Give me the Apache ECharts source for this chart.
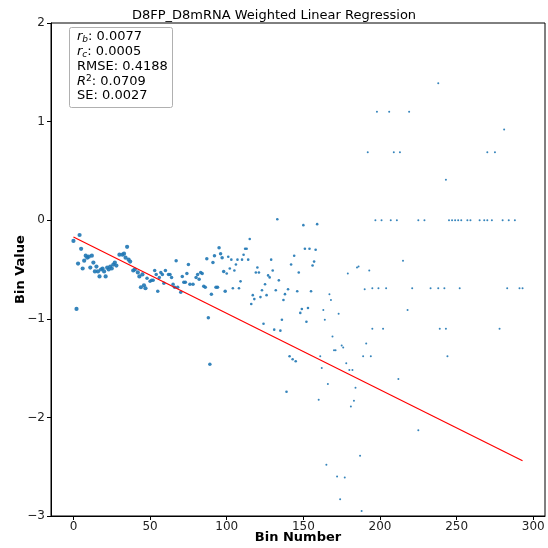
<!DOCTYPE html>
<html>
<head>
<meta charset="utf-8">
<script src="https://cdn.jsdelivr.net/npm/echarts@6/dist/echarts.min.js"></script>
<style>html,body{margin:0;padding:0;background:#fff}#c{width:548px;height:548px}</style>
</head>
<body>
<div id="c"></div>
<script>
// Scatter points (bin number, bin value)
const binX = [0,2,3,4,5,6,7,8,9,10,11,12,13,14,15,16,17,18,19,20,21,22,23,24,25,26,27,28,30,32,33,34,35,36,37,39,40,42,43,44,45,46,
  47,48,50,51,52,53,54,55,56,57,58,59,60,62,63,64,65,66,67,68,70,71,72,73,74,75,76,78,80,81,82,83,84,85,86,87,88,89,90,91,92,93,94,95,96,97,98,99,100,101,
  102,103,104,105,106,107,108,109,110,111,112,113,114,115,116,117,118,119,120,121,122,123,124,125,126,127,128,129,130,131,132,133,134,135,136,137,138,139,140,
  141,142,143,144,145,146,147,148,149,150,151,152,153,154,155,156,157,158,159,160,161,162,163,164,165,166,167,168,169,170,171,172,173,174,175,176,177,178,179,180,
  181,182,183,184,185,186,187,188,189,190,191,192,193,194,195,195,197,198,199,201,202,204,206,207,209,211,212,213,215,218,219,221,225,225,229,233,238,238,239,242,
  243,243,244,245,247,249,251,252,253,257,259,265,268,270,270,273,275,278,280,281,283,284,288,291,293];
const binY = [-0.21,-0.90,-0.44,-0.15,-0.29,-0.49,-0.41,-0.36,-0.38,-0.37,-0.48,-0.36,-0.43,-0.52,-0.47,-0.52,-0.57,-0.50,-0.49,-0.52,-0.57,-0.48,-0.50,-0.47,-0.49,-0.45,-0.43,-0.46,-0.35,-0.35,-0.34,-0.38,-0.27,-0.40,-0.42,-0.51,-0.50,-0.53,-0.57,-0.68,-0.55,-0.66,
  -0.69,-0.59,-0.62,-0.61,-0.61,-0.51,-0.55,-0.72,-0.58,-0.53,-0.55,-0.64,-0.51,-0.55,-0.55,-0.58,-0.65,-0.68,-0.41,-0.68,-0.73,-0.57,-0.63,-0.63,-0.54,-0.45,-0.65,-0.65,-0.58,-0.55,-0.60,-0.53,-0.54,-0.67,-0.68,-0.39,-0.99,-1.46,-0.75,-0.43,-0.36,-0.68,-0.68,-0.28,-0.34,-0.38,-0.52,-0.72,-0.54,-0.37,
  -0.49,-0.40,-0.69,-0.51,-0.45,-0.40,-0.69,-0.62,-0.40,-0.35,-0.29,-0.29,-0.40,-0.19,-0.85,-0.76,-0.80,-0.53,-0.48,-0.53,-0.78,-0.71,-1.05,-0.65,-0.76,-0.56,-0.58,-0.40,-0.51,-1.11,-0.71,0.01,-0.61,-1.12,-1.01,-0.81,-0.75,-1.74,-0.70,
  -1.38,-0.45,-1.41,-0.36,-1.43,-0.72,-0.53,-0.94,-0.90,-0.05,-0.29,-1.03,-0.89,-0.29,-0.72,-0.46,-0.42,-0.30,-0.04,-1.82,-1.38,-1.50,-0.91,-1.01,-2.48,-1.66,-0.75,-0.81,-1.18,-1.32,-1.32,-2.60,-0.95,-2.83,-1.27,-1.29,-2.61,-1.45,-0.54,-1.52,
  -1.89,-1.52,-1.83,-1.70,-0.48,-0.47,-2.39,-2.95,-1.38,-0.70,-1.25,0.69,-0.51,-1.38,-1.10,-0.69,0.00,1.10,-0.69,0.00,-1.10,-0.69,1.10,0.00,0.69,0.00,-1.61,0.69,-0.41,-0.91,1.10,-0.69,0.00,-2.13,0.00,-0.69,1.39,-0.69,-1.10,-0.69,
  0.41,-1.10,-1.38,0.00,0.00,0.00,0.00,-0.69,0.00,0.00,0.00,0.00,0.00,0.00,0.69,0.00,0.69,-1.10,0.00,0.92,-0.69,0.00,0.00,-0.69,-0.69];
// Regression line end points
const fitX = [0, 293];
const fitY = [-0.17, -2.44];
// Tick labels
const xTicks = [0, 50, 100, 150, 200, 250, 300];
const yTicks = [-3, -2, -1, 0, 1, 2];
// Stats box
const statLabels = [['r','b',''], ['r','c',''], ['RMSE','',''], ['R','','2'], ['SE','','']];
const statValues = ['0.0077', '0.0005', '0.4188', '0.0709', '0.0027'];
const titleText = 'D8FP_D8mRNA Weighted Linear Regression';

const FONT = 'DejaVu Sans';
const fmt = v => (v < 0 ? '\u2212' + Math.abs(v) : String(v));

const pts = binX.map((x, i) => [x, binY[i]]);
const fit = fitX.map((x, i) => [x, fitY[i]]);

const chart = echarts.init(document.getElementById('c'), null, {renderer: 'canvas'});

const statGraphics = [];
statLabels.forEach((l, i) => {
  let t;
  if (l[0] === 'r') t = '{i|r}{sub|' + l[1] + '}{n|: ' + statValues[i] + '}';
  else if (l[2]) t = '{i|' + l[0] + '}{sup|' + l[2] + '}{n|: ' + statValues[i] + '}';
  else t = '{n|' + l[0] + ': ' + statValues[i] + '}';
  statGraphics.push({
    type: 'text', left: 77, top: 30.5 + i * 14.6, z: 101,
    style: {
      text: t,
      rich: {
        n: {fontFamily: FONT, fontSize: 13, color: '#000', lineHeight: 15, verticalAlign: 'middle'},
        i: {fontFamily: FONT, fontSize: 13, fontStyle: 'italic', color: '#000', lineHeight: 15, verticalAlign: 'middle'},
        sub: {fontFamily: FONT, fontSize: 9, fontStyle: 'italic', color: '#000', lineHeight: 15, verticalAlign: 'bottom', padding: [5, 0, 0, 0]},
        sup: {fontFamily: FONT, fontSize: 9, color: '#000', lineHeight: 15, verticalAlign: 'top', padding: [0, 0, 5, 0]}
      }
    }
  });
});

chart.setOption({
  animation: false,
  backgroundColor: '#fff',
  grid: {left: 51, right: 3, top: 23, bottom: 32, show: true, borderColor: '#000', borderWidth: 1, outerBoundsMode: 'none', containLabel: false},
  xAxis: {
    type: 'value', min: -14.65, max: 307.65,
    axisLine: {show: true, onZero: false, lineStyle: {color: '#000', width: 1}},
    axisTick: {show: true, length: 4, customValues: xTicks, lineStyle: {color: '#000'}},
    axisLabel: {customValues: xTicks, formatter: fmt, color: '#222', fontFamily: FONT, fontSize: 12, margin: 5},
    splitLine: {show: false},
    name: 'Bin Number', nameLocation: 'middle', nameGap: 15, nameMoveOverlap: false,
    nameTextStyle: {fontFamily: FONT, fontSize: 13, fontWeight: 'bold', color: '#000'}
  },
  yAxis: {
    type: 'value', min: -3, max: 2, interval: 1,
    axisLine: {show: true, onZero: false, lineStyle: {color: '#000', width: 1}},
    axisTick: {show: true, length: 4, lineStyle: {color: '#000'}},
    axisLabel: {formatter: fmt, color: '#222', fontFamily: FONT, fontSize: 12, margin: 6},
    splitLine: {show: false},
    name: 'Bin Value', nameLocation: 'middle', nameGap: 24, nameMoveOverlap: false,
    nameTextStyle: {fontFamily: FONT, fontSize: 13, fontWeight: 'bold', color: '#000'}
  },
  series: [
    {
      type: 'scatter', data: pts,
      symbolSize: v => (v[0] < 48 ? 4.2 : v[0] < 100 ? 3.5 : v[0] < 160 ? 2.6 : 2.0),
      itemStyle: {color: '#1f77b4', opacity: 0.9},
      z: 2
    },
    {
      type: 'line', data: fit, symbol: 'none',
      lineStyle: {color: '#ff0000', width: 1.2},
      z: 3
    }
  ],
  graphic: [
    {type: 'text', left: 'center', top: 9, style: {text: titleText, fontFamily: FONT, fontSize: 13, fill: '#000'}, x: 23},
    {type: 'rect', left: 69, top: 27, z: 100,
      shape: {width: 103, height: 80, r: 2},
      style: {fill: 'rgba(255,255,255,0.85)', stroke: '#b0b0b0', lineWidth: 1}}
  ].concat(statGraphics)
});
</script>
</body>
</html>
